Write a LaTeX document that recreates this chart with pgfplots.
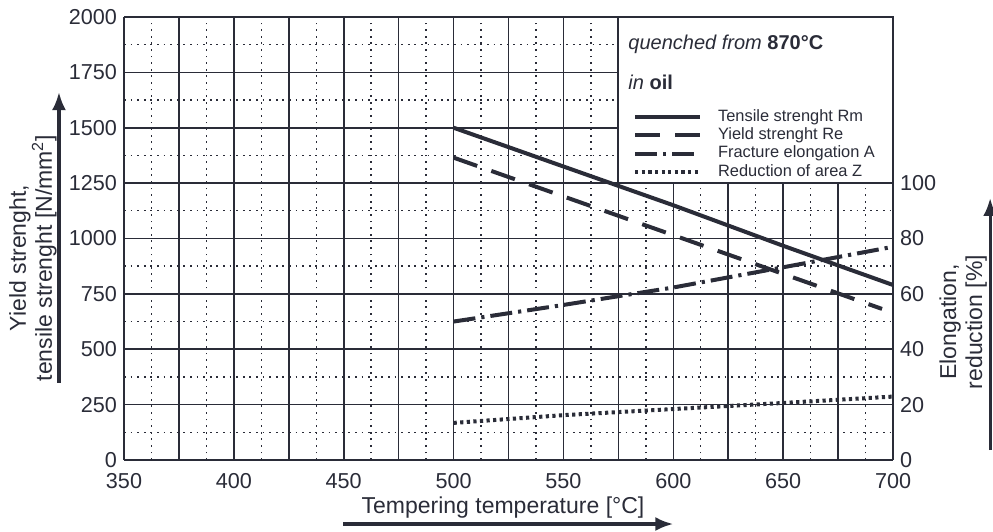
\documentclass[border=0pt]{standalone}
\usepackage{fontspec}
\setmainfont{Liberation Sans}
\usepackage{pgfplots}
\pgfplotsset{compat=1.18}
\usetikzlibrary{arrows.meta}

\definecolor{ink}{RGB}{42,44,56}

\tikzset{
  rm/.style={ink, line width=2pt},
  re/.style={ink, line width=2pt, dash pattern=on 12.5pt off 7.5pt},
  fa/.style={ink, line width=2pt, dash pattern=on 11pt off 3pt on 1.6pt off 3pt},
  rz/.style={ink, line width=2pt, dash pattern=on 1.6pt off 1.7pt},
  bigarrow/.style={ink, line width=1.6pt, -{Latex[length=9pt,width=7pt]}},
}

\pgfplotsset{
  common/.style={
    scale only axis,
    width=384.5pt, height=221.5pt,
    xmin=350, xmax=700,
    major tick length=0pt, minor tick length=0pt,
    /pgf/number format/assume math mode=true,
    tick label style={font=\fontsize{10.8}{12}\selectfont, color=ink},
    axis line style={ink, line width=1pt},
  },
}

\begin{document}
\begin{tikzpicture}
\begin{axis}[
  common,
  ymin=0, ymax=2000,
  xtick={350,375,...,700},
  xticklabels={350,,400,,450,,500,,550,,600,,650,,700},
  ytick={0,250,...,2000},
  minor x tick num=1, minor y tick num=1,
  grid=both,
  major grid style={ink, line width=0.8pt},
  minor grid style={ink, line width=0.7pt, dash pattern=on 0.9pt off 2.4pt},
  yticklabel style={/pgf/number format/1000 sep={}},
  xticklabel style={/pgf/number format/1000 sep={}, yshift=-3pt},
  axis y line*=left,
  clip=false,
]
  % white box for the note and legend
  \filldraw[fill=white, draw=ink, line width=1pt]
    (axis cs:575,1250) rectangle (axis cs:700,2000);

  \addplot[rm] coordinates {(500,1500) (550,1325) (600,1150) (650,967) (700,790)};
  \addplot[re] coordinates {(500,1365) (550,1190) (600,1015) (650,840) (695,682)};

  \node[anchor=west, font=\fontsize{10}{12}\selectfont, text=ink, inner sep=0pt]
    at (axis cs:579.4,1878) {\textit{quenched from} \textbf{870°C}};
  \node[anchor=west, font=\fontsize{10}{12}\selectfont, text=ink, inner sep=0pt]
    at (axis cs:579.4,1707) {\textit{in} \textbf{oil}};

  % axis titles with arrows
  \node[rotate=90, align=center, font=\fontsize{11.5}{13}\selectfont, text=ink]
    at (axis cs:308.5,912) {Yield strenght,\\tensile strenght [N/mm\textsuperscript{2}]};
  \draw[bigarrow] (axis cs:320.4,348) -- (axis cs:320.4,1661);

  \node[font=\fontsize{11.5}{13.5}\selectfont, text=ink]
    at (axis cs:522.5,-214) {Tempering temperature [°C]};
  \draw[bigarrow] (axis cs:449.7,-289) -- (axis cs:600,-289);

  \node[rotate=90, align=center, font=\fontsize{11.5}{13}\selectfont, text=ink]
    at (axis cs:731.9,623) {Elongation,\\reduction [\%]};
  \draw[bigarrow] (axis cs:744.2,45) -- (axis cs:744.2,1183);

  \coordinate (bbsw) at (axis cs:293.56,-325);
  \coordinate (bbne) at (axis cs:745.5,2076.7);
\end{axis}

\begin{axis}[
  common,
  ymin=0, ymax=160,
  ytick={0,20,...,100},
  axis x line=none,
  axis y line*=right,
  legend style={
    at={(axis cs:578.8,128.2)}, anchor=north west,
    draw=none, fill=none,
    font=\fontsize{8.2}{9.5}\selectfont, text=ink,
    row sep=1.3pt,
    nodes={inner sep=0pt, text height=6pt, text depth=1.8pt},
    cells={anchor=west},
  },
  legend image code/.code={\draw[#1] (0pt,0pt) -- (32.5pt,0pt);},
  legend cell align=left,
]
  \addlegendimage{rm}\addlegendentry{\hspace{8pt}Tensile strenght Rm}
  \addlegendimage{re}\addlegendentry{\hspace{8pt}Yield strenght Re}
  \addplot[fa] coordinates {(500,50) (550,56) (600,62.3) (650,69.6) (700,77)};
  \addlegendentry{\hspace{8pt}Fracture elongation A}
  \addplot[rz] coordinates {(500,13.4) (550,16.2) (600,18.4) (650,20.6) (700,22.9)};
  \addlegendentry{\hspace{8pt}Reduction of area Z}
\end{axis}

\pgfresetboundingbox
\path[use as bounding box] (bbsw) rectangle (bbne);
\end{tikzpicture}
\end{document}
